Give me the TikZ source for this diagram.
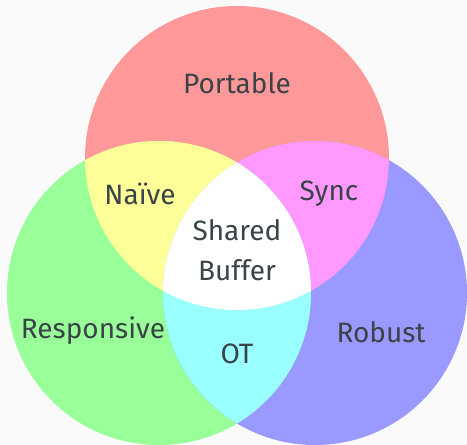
\documentclass[tikz,border=0pt]{standalone}
\usepackage{fontspec}
\setmainfont{Fira Sans}
\usepackage{tikz}
\usetikzlibrary{positioning}

\definecolor{bgcol}{HTML}{FAFAFA}
\definecolor{txtcol}{RGB}{58,68,72}
\definecolor{redset}{HTML}{FF9999}
\definecolor{greenset}{HTML}{99FF99}
\definecolor{blueset}{HTML}{9999FF}
\definecolor{yellowset}{HTML}{FFFF99}
\definecolor{magentaset}{HTML}{FF99FF}
\definecolor{cyanset}{HTML}{99FFFF}

\tikzset{
  setlabel/.style={text=txtcol, font=\fontsize{28}{34}\selectfont, align=center},
}

\begin{document}
\begin{tikzpicture}[x=1pt, y=-1pt]
    % background and bounding box
    \fill[bgcol] (0,0) rectangle (467,445);
    \useasboundingbox (0,0) rectangle (467,445);

    % circle centres
    \coordinate (top) at (237,158);
    \coordinate (lft) at (159,293);
    \coordinate (rgt) at (315,293);
    \def\rad{152pt}

    % the three sets
    \fill[redset] (top) circle[radius=\rad];
    \fill[greenset] (lft) circle[radius=\rad];
    \fill[blueset] (rgt) circle[radius=\rad];

    % pairwise overlaps
    \begin{scope}
        \clip (top) circle[radius=\rad];
        \fill[yellowset] (lft) circle[radius=\rad];
        \fill[magentaset] (rgt) circle[radius=\rad];
    \end{scope}
    \begin{scope}
        \clip (lft) circle[radius=\rad];
        \fill[cyanset] (rgt) circle[radius=\rad];
    \end{scope}

    % centre overlap
    \begin{scope}
        \clip (top) circle[radius=\rad];
        \clip (lft) circle[radius=\rad];
        \fill[white] (rgt) circle[radius=\rad];
    \end{scope}

    % labels
    \node[setlabel] (portable) at (237,83) {Portable};
    \node[setlabel] (naive) at (140,194) {Naïve};
    \node[setlabel] (sync) at (329,194) {Sync};
    \node[setlabel] (shared) at (237,250) {Shared\\[6pt]Buffer};
    \node[setlabel] (responsive) at (93,331) {Responsive};
    \node[setlabel] (ot) at (237,354) {OT};
    \node[setlabel] (robust) at (381,332) {Robust};
\end{tikzpicture}
\end{document}
